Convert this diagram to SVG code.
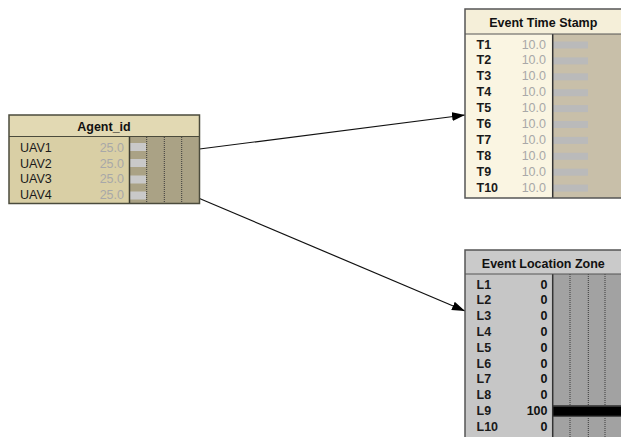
<svg xmlns="http://www.w3.org/2000/svg" width="621" height="437" viewBox="0 0 621 437">
<defs>
<style>
.lbl{font-family:"Liberation Sans",Arial,sans-serif;font-size:12.5px;fill:#1a1a1a}
.lblb{font-family:"Liberation Sans",Arial,sans-serif;font-size:12.5px;font-weight:bold;fill:#1a1a1a}
.ttl{font-family:"Liberation Sans",Arial,sans-serif;font-size:12.5px;font-weight:bold;fill:#111;text-anchor:middle}
.val{font-family:"Liberation Sans",Arial,sans-serif;font-size:12.5px;fill:#a8a8a8;text-anchor:end}
.valb{font-family:"Liberation Sans",Arial,sans-serif;font-size:12.5px;font-weight:bold;fill:#111;text-anchor:end}
.dot{stroke:#3a3a3a;stroke-width:1;stroke-dasharray:1 1}
.edge{stroke:#111;stroke-width:1.2;fill:none;marker-end:url(#ah)}
</style>
<marker id="ah" markerUnits="userSpaceOnUse" markerWidth="14" markerHeight="10" refX="13" refY="5" orient="auto">
<path d="M0,0.5 L13,5 L0,9.5 Z" fill="#000"/>
</marker>
</defs>
<rect width="621" height="437" fill="#fff"/>

<g id="connectors">
<line class="edge" x1="199.5" y1="149" x2="465" y2="115"/>
<line class="edge" x1="199.5" y1="198.5" x2="465" y2="311"/>
</g>

<g id="agent_id">
<rect x="9" y="115" width="190.5" height="88.5" fill="#d9cfa5"/>
<rect x="9" y="115" width="190.5" height="21.5" fill="#e2d9b3"/>
<rect x="130" y="136.5" width="69.5" height="67" fill="#aaa285"/>
<g fill="#c9c9c9">
<rect x="130" y="143" width="16" height="8"/>
<rect x="130" y="159" width="16" height="8"/>
<rect x="130" y="175.5" width="16" height="8"/>
<rect x="130" y="191.5" width="16" height="8"/>
</g>
<line class="dot" x1="146.7" y1="137" x2="146.7" y2="203"/>
<line class="dot" x1="164.3" y1="137" x2="164.3" y2="203"/>
<line class="dot" x1="181.7" y1="137" x2="181.7" y2="203"/>
<line x1="129.5" y1="136.5" x2="129.5" y2="203.5" stroke="#3c3c30" stroke-width="1.5"/>
<line x1="9" y1="136.5" x2="199.5" y2="136.5" stroke="#4b4b3c" stroke-width="1"/>
<rect x="9" y="115" width="190.5" height="88.5" fill="none" stroke="#4b4b3c" stroke-width="1.5"/>
<text class="ttl" x="104" y="130.5">Agent_id</text>
<text class="lbl" x="20" y="151.7">UAV1</text>
<text class="lbl" x="20" y="167.5">UAV2</text>
<text class="lbl" x="20" y="183.3">UAV3</text>
<text class="lbl" x="20" y="199.1">UAV4</text>
<text class="val" x="124" y="151.7">25.0</text>
<text class="val" x="124" y="167.5">25.0</text>
<text class="val" x="124" y="183.3">25.0</text>
<text class="val" x="124" y="199.1">25.0</text>
</g>

<g id="event_time_stamp">
<rect x="465" y="9" width="160" height="189" fill="#faf5e2"/>
<rect x="465" y="9" width="160" height="25" fill="#f5efd9"/>
<rect x="553" y="34" width="72" height="164" fill="#c8bfa9"/>
<g fill="#bababa">
<rect x="553" y="41.5" width="35" height="7"/>
<rect x="553" y="57.4" width="35" height="7"/>
<rect x="553" y="73.3" width="35" height="7"/>
<rect x="553" y="89.2" width="35" height="7"/>
<rect x="553" y="105.1" width="35" height="7"/>
<rect x="553" y="121" width="35" height="7"/>
<rect x="553" y="136.9" width="35" height="7"/>
<rect x="553" y="152.8" width="35" height="7"/>
<rect x="553" y="168.7" width="35" height="7"/>
<rect x="553" y="184.6" width="35" height="7"/>
</g>
<line x1="552.7" y1="34" x2="552.7" y2="198" stroke="#333" stroke-width="1.5"/>
<line x1="465" y1="34" x2="625" y2="34" stroke="#555" stroke-width="1"/>
<rect x="465" y="9" width="160" height="189" fill="none" stroke="#555" stroke-width="1.5"/>
<text class="ttl" x="543.3" y="27">Event Time Stamp</text>
<text class="lblb" x="476.5" y="48.5">T1</text>
<text class="lblb" x="476.5" y="64.4">T2</text>
<text class="lblb" x="476.5" y="80.3">T3</text>
<text class="lblb" x="476.5" y="96.2">T4</text>
<text class="lblb" x="476.5" y="112.1">T5</text>
<text class="lblb" x="476.5" y="128">T6</text>
<text class="lblb" x="476.5" y="143.9">T7</text>
<text class="lblb" x="476.5" y="159.8">T8</text>
<text class="lblb" x="476.5" y="175.7">T9</text>
<text class="lblb" x="476.5" y="191.6">T10</text>
<text class="val" x="546" y="48.5">10.0</text>
<text class="val" x="546" y="64.4">10.0</text>
<text class="val" x="546" y="80.3">10.0</text>
<text class="val" x="546" y="96.2">10.0</text>
<text class="val" x="546" y="112.1">10.0</text>
<text class="val" x="546" y="128">10.0</text>
<text class="val" x="546" y="143.9">10.0</text>
<text class="val" x="546" y="159.8">10.0</text>
<text class="val" x="546" y="175.7">10.0</text>
<text class="val" x="546" y="191.6">10.0</text>
</g>

<g id="event_location_zone">
<rect x="465" y="250" width="160" height="190" fill="#c6c6c6"/>
<rect x="465" y="250" width="160" height="24" fill="#cacaca"/>
<rect x="553" y="274" width="72" height="166" fill="#a2a2a2"/>
<line class="dot" x1="570" y1="274" x2="570" y2="437"/>
<line class="dot" x1="588.3" y1="274" x2="588.3" y2="437"/>
<line class="dot" x1="605" y1="274" x2="605" y2="437"/>
<rect x="553" y="405" width="72" height="12" fill="#4a4a4a"/>
<rect x="553" y="406.7" width="72" height="9" fill="#000"/>
<line x1="552.7" y1="274" x2="552.7" y2="440" stroke="#333" stroke-width="1.5"/>
<line x1="465" y1="274" x2="625" y2="274" stroke="#555" stroke-width="1"/>
<rect x="465" y="250" width="160" height="190" fill="none" stroke="#555" stroke-width="1.5"/>
<text class="ttl" x="543.3" y="267.5">Event Location Zone</text>
<text class="lblb" x="476.5" y="288.5">L1</text>
<text class="lblb" x="476.5" y="304.3">L2</text>
<text class="lblb" x="476.5" y="320.1">L3</text>
<text class="lblb" x="476.5" y="335.9">L4</text>
<text class="lblb" x="476.5" y="351.7">L5</text>
<text class="lblb" x="476.5" y="367.5">L6</text>
<text class="lblb" x="476.5" y="383.3">L7</text>
<text class="lblb" x="476.5" y="399.1">L8</text>
<text class="lblb" x="476.5" y="414.9">L9</text>
<text class="lblb" x="476.5" y="430.7">L10</text>
<text class="valb" x="547.5" y="288.5">0</text>
<text class="valb" x="547.5" y="304.3">0</text>
<text class="valb" x="547.5" y="320.1">0</text>
<text class="valb" x="547.5" y="335.9">0</text>
<text class="valb" x="547.5" y="351.7">0</text>
<text class="valb" x="547.5" y="367.5">0</text>
<text class="valb" x="547.5" y="383.3">0</text>
<text class="valb" x="547.5" y="399.1">0</text>
<text class="valb" x="547.5" y="414.9">100</text>
<text class="valb" x="547.5" y="430.7">0</text>
</g>
</svg>
